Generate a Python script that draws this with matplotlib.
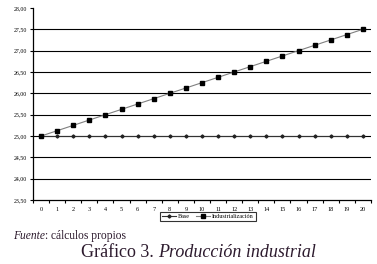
import matplotlib
matplotlib.use("Agg")
import matplotlib.pyplot as plt
from matplotlib.ticker import FixedLocator, FuncFormatter

periods = list(range(21))
base = [25.0] * 21
industrializacion = [25.000, 25.125, 25.250, 25.375, 25.500, 25.625, 25.750, 25.875,
                     26.000, 26.125, 26.250, 26.375, 26.500, 26.625, 26.750, 26.875,
                     27.000, 27.125, 27.250, 27.375, 27.500]
yticks = [23.5, 24.0, 24.5, 25.0, 25.5, 26.0, 26.5, 27.0, 27.5, 28.0]

plt.rcParams['font.family'] = ['Liberation Serif', 'DejaVu Serif']

fig = plt.figure(figsize=(3.77, 2.64), dpi=100)
ax = fig.add_axes([0.0875, 0.242, 0.8965, 0.728])

for y in yticks[1:-1]:
    ax.axhline(y, color='black', lw=0.8, zorder=1)

ax.plot(periods, base, color='#333333', lw=0.8, marker='D', ms=1.6,
        mfc='#222222', mec='#222222', label='Base', zorder=3)
ax.plot(periods, industrializacion, color='#808080', lw=0.8, marker='s', ms=2.6,
        mfc='black', mec='black', label='Industrialización', zorder=4)

ax.set_xlim(-0.5, 20.5)
ax.set_ylim(23.5, 28.0)
ax.set_yticks(yticks)
ax.yaxis.set_major_formatter(FuncFormatter(lambda v, p: f"{v:.2f}".replace('.', ',')))
ax.set_xticks(periods)
ax.set_xticklabels([str(p) for p in periods])
ax.xaxis.set_minor_locator(FixedLocator([p + 0.5 for p in range(-1, 21)]))
ax.tick_params(axis='x', which='major', length=0, labelsize=4.5, pad=5)
ax.tick_params(axis='x', which='minor', length=2, width=0.8, direction='out')
ax.tick_params(axis='y', length=2, width=0.8, labelsize=4.2, pad=2)

for s in ['top', 'right']:
    ax.spines[s].set_visible(False)
for s in ['left', 'bottom']:
    ax.spines[s].set_linewidth(0.9)

leg = fig.legend(loc='center', bbox_to_anchor=(0.552, 0.18), ncol=2, fontsize=4.4,
                 frameon=True, fancybox=False, edgecolor='black', handlelength=2.2,
                 borderpad=0.3, columnspacing=1.0, handletextpad=0.4)
leg.get_frame().set_linewidth(0.8)

col = '#2d1b2e'
t1 = fig.text(0.034, 0.105, "Fuente", fontsize=8.3, color=col, va='center', ha='left',
              style='italic')
fig.canvas.draw()
bb = t1.get_window_extent()
x1 = bb.x1 / fig.bbox.width
fig.text(x1, 0.105, ": cálculos propios", fontsize=8.3, color=col, va='center', ha='left')

fig.text(0.42, 0.045, "Gráfico 3. ", fontsize=13, color=col, va='center', ha='right')
fig.text(0.42, 0.045, "Producción industrial", fontsize=13, color=col,
         va='center', ha='left', style='italic')

fig.savefig("out.png", dpi=100)
